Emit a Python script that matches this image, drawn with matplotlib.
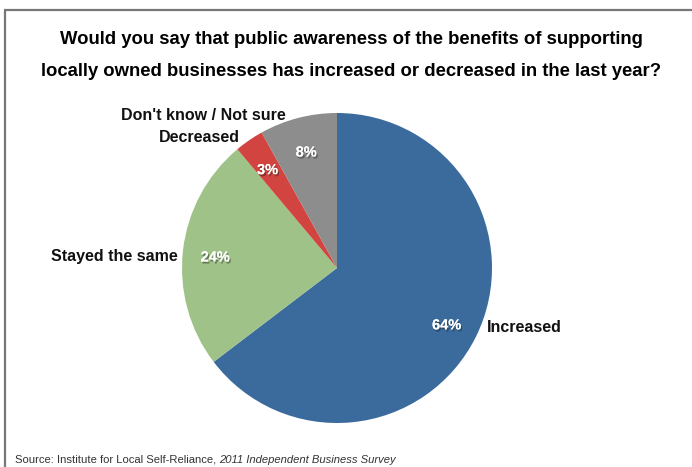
import matplotlib
matplotlib.use("Agg")
import matplotlib.pyplot as plt
import matplotlib.patheffects as pe
import numpy as np

plt.rcParams['font.family'] = ['Liberation Sans', 'DejaVu Sans']

categories = ['Increased', 'Stayed the same', 'Decreased', 'Don\'t know / Not sure']
values = [64, 24, 3, 8]
colors = ['#3b6b9c', '#9ec287', '#d2443f', '#8d8d8d']

W, H = 692, 467
fig = plt.figure(figsize=(W / 100, H / 100), dpi=100)
ax = fig.add_axes([0, 0, 1, 1])

cx, cy, r = 337, 268, 155
# y axis is inverted, so counterclock=True shows clockwise on screen
wedges, _ = ax.pie(values, colors=colors, startangle=-90, counterclock=True,
                   center=(cx, cy), radius=r, frame=True,
                   wedgeprops=dict(linewidth=0))
ax.set_xlim(0, W)
ax.set_ylim(H, 0)
ax.set_aspect('equal')
ax.axis('off')

shadow = [pe.withSimplePatchShadow(offset=(1, -1.5), shadow_rgbFace='#222222', alpha=0.45),
          pe.Normal()]
for w, v in zip(wedges, values):
    mid = np.deg2rad((w.theta1 + w.theta2) / 2)
    x = cx + 0.79 * r * np.cos(mid)
    y = cy + 0.79 * r * np.sin(mid) + 3
    ax.text(x, y, f'{v}%', color='white', fontsize=10.5, fontweight='bold',
            ha='center', va='center', path_effects=shadow)

# category labels
lab = dict(fontsize=11.5, fontweight='bold', va='center', color='#111111')
ax.text(487, 328, categories[0], ha='left', **lab)
ax.text(178, 257, categories[1], ha='right', **lab)
ax.text(240, 138, categories[2], ha='right', **lab)
ax.text(286, 116, categories[3], ha='right', **lab)

# title
ax.text(351, 40, 'Would you say that public awareness of the benefits of supporting',
        fontsize=13.3, fontweight='bold', ha='center', va='center')
ax.text(351, 72, 'locally owned businesses has increased or decreased in the last year?',
        fontsize=13.3, fontweight='bold', ha='center', va='center')

# source
src = ax.text(15, 460, 'Source: Institute for Local Self-Reliance, ', fontsize=8.1,
              color='#333333', ha='left', va='center')
ax.annotate('2011 Independent Business Survey', xy=(1, 0.5), xycoords=src,
            fontsize=8.1, style='italic', color='#333333', ha='left', va='center')

# frame lines (top and left)
ax.plot([4, W], [10, 10], color='#777777', lw=1.6, solid_capstyle='butt')
ax.plot([4.5, 4.5], [10, H], color='#777777', lw=1.6, solid_capstyle='butt')

fig.savefig('out.png', dpi=100)
